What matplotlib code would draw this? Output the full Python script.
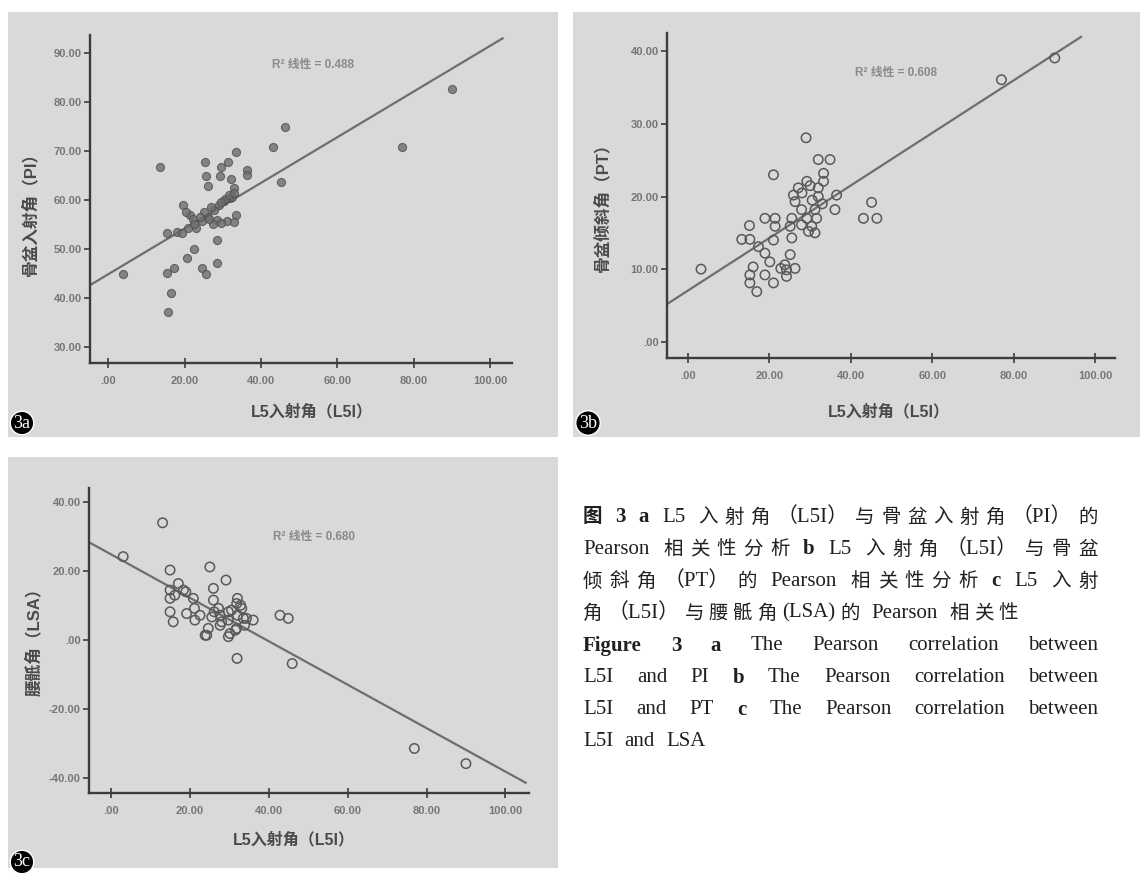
import matplotlib
matplotlib.use('Agg')
import matplotlib.pyplot as plt
from matplotlib.patches import Rectangle
import numpy as np

W, H = 1140, 875
plt.rcParams['font.family'] = ['Liberation Sans', 'Noto Sans CJK SC', 'DejaVu Sans']

# ---------------- data ----------------
a_l5i = [89.9, 77.0, 46.3, 43.2, 45.3, 13.6, 3.9, 16.4, 15.6, 15.5, 17.3, 20.5, 22.4,
         24.5, 25.7, 28.4, 28.4, 25.4, 25.7, 26.1, 29.4, 31.4, 33.5, 36.3, 36.3, 29.3,
         32.2, 32.9, 31.9, 30.3, 28.9, 27.8, 33.5, 31.0, 28.4, 26.2, 24.5, 19.6, 21.4,
         21.0, 15.3, 17.9, 19.4, 23.1, 32.9, 29.6, 27.5, 26.4, 32.3, 30.6, 22.3, 20.3,
         25.0, 27.0, 29.5, 31.5, 33.0, 22.5, 24.0]
a_pi = [82.6, 70.9, 74.8, 70.9, 63.7, 66.8, 44.8, 40.9, 37.1, 45.0, 46.0, 48.1, 50.0,
        46.0, 44.8, 47.0, 51.9, 67.8, 64.8, 62.8, 66.8, 67.8, 69.7, 66.2, 65.0, 64.8,
        64.3, 62.4, 60.3, 59.8, 59.0, 57.9, 56.9, 55.6, 55.9, 56.6, 55.6, 59.0, 56.9,
        54.2, 53.2, 53.5, 53.2, 54.2, 55.4, 55.2, 55.0, 56.0, 60.6, 60.2, 56.0, 57.6,
        57.5, 58.5, 59.5, 61.0, 61.5, 55.0, 56.5]

b_l5i = [90.1, 77.0, 3.2, 29.0, 21.0, 32.0, 34.9, 33.3, 33.3, 29.2, 27.1, 32.0, 25.9,
         32.0, 36.5, 26.3, 36.1, 45.1, 43.1, 46.4, 31.2, 27.9, 31.6, 29.2, 30.4, 29.6,
         31.2, 27.9, 25.5, 25.1, 25.5, 18.9, 21.4, 21.4, 15.1, 13.2, 15.2, 21.0, 17.3,
         18.9, 25.1, 20.1, 23.8, 26.3, 24.2, 22.8, 16.0, 15.2, 18.9, 24.2, 15.2, 21.0,
         16.9, 30.0, 28.0, 33.0, 30.5]
b_pt = [39.1, 36.1, 10.0, 28.1, 23.0, 25.1, 25.1, 23.2, 22.1, 22.1, 21.2, 21.2, 20.2,
        20.0, 20.2, 19.3, 18.2, 19.2, 17.0, 17.0, 18.2, 18.2, 17.0, 17.0, 15.9, 15.2,
        15.0, 16.1, 17.0, 15.9, 14.3, 17.0, 17.0, 15.9, 16.0, 14.1, 14.1, 14.0, 13.1,
        12.2, 12.0, 11.0, 10.6, 10.1, 9.9, 10.1, 10.3, 9.2, 9.2, 9.0, 8.1, 8.1,
        6.9, 21.5, 20.5, 19.0, 19.5]

c_l5i = [13.0, 3.0, 76.9, 90.0, 31.9, 45.9, 42.8, 44.9, 25.0, 14.9, 29.1, 25.9, 17.0,
         14.9, 18.3, 20.8, 14.9, 25.9, 31.8, 33.1, 30.5, 14.9, 15.7, 19.1, 21.2, 25.5,
         27.6, 29.7, 36.0, 33.5, 27.6, 24.6, 24.2, 30.1, 31.8, 16.1, 18.9, 21.1, 26.1,
         28.0, 29.7, 32.8, 32.0, 34.3, 33.8, 22.5, 27.2, 32.0, 29.7, 31.5, 23.8]
c_lsa = [34.1, 24.3, -31.3, -35.7, -5.2, -6.7, 7.3, 6.4, 21.3, 20.4, 17.5, 15.1, 16.5,
         14.6, 14.6, 12.2, 12.2, 11.7, 10.7, 9.3, 8.8, 8.3, 5.4, 7.8, 5.9, 6.8,
         7.3, 5.9, 5.9, 6.4, 4.4, 3.5, 1.5, 2.0, 3.5, 13.1, 14.1, 9.3, 8.3,
         5.4, 8.3, 10.2, 7.3, 6.4, 4.4, 7.3, 9.3, 12.2, 1.1, 3.0, 1.5]

# fitted lines: (intercept, slope) and x-extent of the drawn line
fit_a = (44.8, 0.467); fit_a_x = (-4.66, 103.5)
fit_b = (7.05, 0.362); fit_b_x = (-5.16, 96.8)
fit_c = (24.9, -0.629); fit_c_x = (-5.6, 105.4)

r2_a = 'R² 线性 = 0.488'
r2_b = 'R² 线性 = 0.608'
r2_c = 'R² 线性 = 0.680'

x_ticks = [0, 20, 40, 60, 80, 100]
x_ticklabels = ['.00', '20.00', '40.00', '60.00', '80.00', '100.00']
a_yticks = [30, 40, 50, 60, 70, 80, 90]
a_yticklabels = ['30.00', '40.00', '50.00', '60.00', '70.00', '80.00', '90.00']
b_yticks = [0, 10, 20, 30, 40]
b_yticklabels = ['.00', '10.00', '20.00', '30.00', '40.00']
c_yticks = [-40, -20, 0, 20, 40]
c_yticklabels = ['-40.00', '-20.00', '.00', '20.00', '40.00']

xlabel_txt = 'L5入射角（L5I）'
a_ylabel = '骨盆入射角（PI）'
b_ylabel = '骨盆倾斜角（PT）'
c_ylabel = '腰骶角（LSA）'

caption_lines = [
    ([('图 3', True), ('  ', False), ('a', True), (' L5 入射角（L5I）与骨盆入射角（PI）的', False)], True),
    ([('Pearson 相关性分析  ', False), ('b', True), (' L5 入射角（L5I）与骨盆', False)], True),
    ([('倾斜角（PT）的 Pearson 相关性分析  ', False), ('c', True), (' L5 入射', False)], True),
    ([('角（L5I）与腰骶角(LSA)的 Pearson 相关性', False)], False),
    ([('Figure 3', True), ('  ', False), ('a', True), (' The Pearson correlation between', False)], True),
    ([('L5I and PI ', False), ('b', True), (' The Pearson correlation between', False)], True),
    ([('L5I and PT ', False), ('c', True), (' The Pearson correlation between', False)], True),
    ([('L5I and LSA', False)], False),
]

# ---------------- styling ----------------
BG = '#d9d9d9'
SPINE = '#3c3c3c'
TICKC = '#767676'
LABELC = '#4a4a4a'
LINEC = '#6e6e6e'

fig = plt.figure(figsize=(W / 100, H / 100), dpi=100)
fig.patch.set_facecolor('white')


def fx(px):
    return px / W


def fy(py):
    return 1 - py / H


def panel_bg(x0, y0, x1, y1):
    fig.patches.append(Rectangle((fx(x0), fy(y1)), (x1 - x0) / W, (y1 - y0) / H,
                                 transform=fig.transFigure, fc=BG, ec='none', zorder=-10))


def make_ax(l, t, r, b, xlim, ylim, yticks, yticklabels):
    ax = fig.add_axes([fx(l), fy(b), (r - l) / W, (b - t) / H])
    ax.set_zorder(1)
    ax.set_facecolor('none')
    ax.set_xlim(*xlim)
    ax.set_ylim(*ylim)
    for s in ['top', 'right']:
        ax.spines[s].set_visible(False)
    for s in ['left', 'bottom']:
        ax.spines[s].set_color(SPINE)
        ax.spines[s].set_linewidth(1.7)
    ax.set_xticks(x_ticks)
    ax.set_xticklabels(x_ticklabels)
    ax.set_yticks(yticks)
    ax.set_yticklabels(yticklabels)
    ax.tick_params(axis='x', direction='inout', length=7, width=1.2, color=SPINE,
                   pad=6, labelsize=8, labelcolor=TICKC)
    ax.tick_params(axis='y', direction='out', length=4, width=1.2, color=SPINE,
                   pad=2, labelsize=8, labelcolor=TICKC)
    for lab in ax.get_xticklabels() + ax.get_yticklabels():
        lab.set_fontweight('bold')
    return ax


def fit_line(ax, fit, xr):
    xs = np.array(xr)
    ax.plot(xs, fit[0] + fit[1] * xs, color=LINEC, lw=1.6, zorder=2, solid_capstyle='butt')


def badge(x, y, txt):
    fig.text(fx(x), fy(y), txt, ha='center', va='center', color='white', fontsize=13,
             family='Liberation Serif',
             bbox=dict(boxstyle='circle,pad=0.18', fc='black', ec='white', lw=1.0), zorder=10)


R2_KW = dict(ha='center', va='center', fontsize=8.5, color='#8a8a8a', fontweight='bold')
XL_KW = dict(ha='center', va='center', fontsize=11.5, fontweight='bold', color=LABELC)
YL_KW = dict(ha='center', va='center', rotation=90, fontsize=12, fontweight='bold', color=LABELC)

# ---------- panel a ----------
panel_bg(8, 12, 558, 437)
ax_a = make_ax(90.4, 35, 512, 363.3, (-4.66, 105.7), (26.6, 93.7), a_yticks, a_yticklabels)
fit_line(ax_a, fit_a, fit_a_x)
ax_a.scatter(a_l5i, a_pi, s=34, marker='o', facecolor='#6e6e6e', edgecolor='#505050',
             linewidths=0.8, alpha=0.8, zorder=3)
ax_a.text(53.5, 87.6, r2_a, **R2_KW)
fig.text(fx(312), fy(412), xlabel_txt, **XL_KW)
fig.text(fx(30), fy(210), a_ylabel, **YL_KW)
badge(22, 423, '3a')

# ---------- panel b ----------
panel_bg(573, 12, 1140, 437)
ax_b = make_ax(667, 33.3, 1115, 358.3, (-5.16, 104.9), (-2.29, 42.5), b_yticks, b_yticklabels)
fit_line(ax_b, fit_b, fit_b_x)
ax_b.scatter(b_l5i, b_pt, s=46, marker='o', facecolor='none', edgecolor='#595959',
             linewidths=1.1, zorder=3)
ax_b.text(51.0, 37.0, r2_b, **R2_KW)
fig.text(fx(889), fy(412), xlabel_txt, **XL_KW)
fig.text(fx(602), fy(203), b_ylabel, **YL_KW)
badge(588, 423, '3b')

# ---------- panel c ----------
panel_bg(8, 457, 558, 868)
ax_c = make_ax(89.3, 488.3, 528.6, 793.3, (-5.6, 105.9), (-44.3, 44.1), c_yticks, c_yticklabels)
fit_line(ax_c, fit_c, fit_c_x)
ax_c.scatter(c_l5i, c_lsa, s=46, marker='o', facecolor='none', edgecolor='#595959',
             linewidths=1.1, zorder=3)
ax_c.text(51.4, 30.0, r2_c, **R2_KW)
fig.text(fx(294), fy(840), xlabel_txt, **XL_KW)
fig.text(fx(34), fy(638), c_ylabel, **YL_KW)
badge(22, 862, '3c')

# ---------- caption (justified) ----------
LAT_FONT = ['Liberation Serif', 'Noto Sans CJK SC']
CJK_FONT = 'Noto Sans CJK SC'
LAT_SIZE = 15
CJK_SIZE = 14
renderer = fig.canvas.get_renderer()
JOIN = set('（）')


def is_lat(ch):
    return ord(ch) < 128 or ch in JOIN


def tokenize(segments):
    toks = []
    pending = False
    for text, bold in segments:
        buf = ''
        for ch in text:
            if ch == ' ':
                if buf:
                    toks.append([buf, bold, pending])
                    buf = ''
                    pending = False
                pending = True
            elif is_lat(ch):
                buf += ch
            else:
                if buf:
                    toks.append([buf, bold, pending])
                    buf = ''
                    pending = False
                toks.append([ch, bold, pending])
                pending = False
        if buf:
            toks.append([buf, bold, pending])
            pending = False
    return toks


def tok_style(s, bold):
    w = 'bold' if bold else 'normal'
    if is_lat(s[0]) or any(ord(c) < 128 for c in s):
        return dict(fontsize=LAT_SIZE, family=LAT_FONT, fontweight=w)
    return dict(fontsize=CJK_SIZE, family=CJK_FONT, fontweight=w)


def text_width(s, bold):
    t = fig.text(0, 0, s, **tok_style(s, bold))
    w = t.get_window_extent(renderer).width
    t.remove()
    return w


space_w = text_width('a a', False) - text_width('aa', False)


def draw_line(segments, y, x0, x1, justify):
    toks = tokenize(segments)
    widths = [text_width(t, b) for t, b, _ in toks]
    gaps = [0.0] + [space_w * 1.4 if sp else 1.0 for _, _, sp in toks[1:]]
    natural = sum(widths) + sum(gaps)
    extra = (x1 - x0 - natural) / (len(toks) - 1) if (justify and len(toks) > 1) else 4.0
    x = x0
    for i, (t, b, sp) in enumerate(toks):
        if i > 0:
            x += gaps[i] + extra
        fig.text(fx(x), fy(y), t, color='#231f20', ha='left', va='center', **tok_style(t, b))
        x += widths[i]


cap_y = [517, 549, 581, 613, 646, 678, 710, 742]
for (segs, just), yy in zip(caption_lines, cap_y):
    draw_line(segs, yy, 583, 1098, just)

fig.savefig('out.png', dpi=100)
